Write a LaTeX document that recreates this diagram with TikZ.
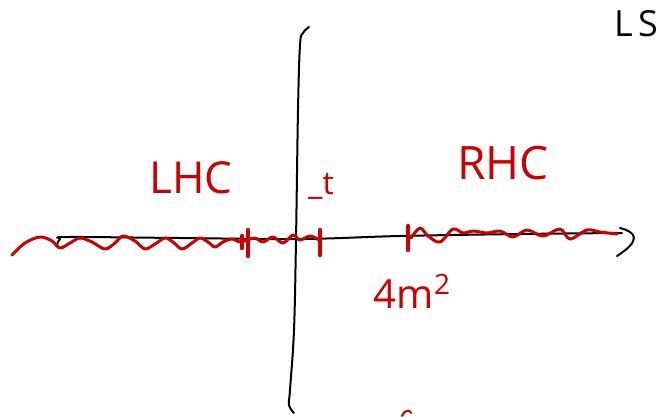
\documentclass[tikz,border=0pt]{standalone}
\usepackage{fontspec}
\setmainfont{Open Sans}
\usepackage{tikz}
\definecolor{inkred}{HTML}{CC0000}

\begin{document}
\begin{tikzpicture}[x=1pt, y=-1pt, line width=2pt, line cap=round, line join=round]
  \useasboundingbox (0,0) rectangle (662,416);
  % vertical axis
  \draw[black] plot[smooth, tension=0.6] coordinates {(309,27) (303,33) (300,45) (298,110) (296,240) (294,330) (290,390) (289,405) (294,413)};
  % horizontal axis with open arrow head
  \draw[black] plot[smooth, tension=0.6] coordinates {(57,245) (60,239) (68,237) (180,238) (300,239) (400,236) (520,234) (622,233)};
  \draw[black] (620,228) .. controls (636,232) and (642,240) .. (617,256);
  % wavy line left of the vertical axis
  \draw[inkred, line width=3pt] plot[smooth, tension=0.55] coordinates {(12,255) (25,243) (40,237) (52,241) (60,248) (70,243) (80,238) (92,242) (105,249) (115,243) (123,236) (135,241) (145,249) (155,244) (165,238) (173,242) (182,249) (192,243) (200,238) (208,242) (215,247) (223,242) (232,239) (240,242) (247,240) (255,238) (263,242) (273,237) (283,243) (293,235) (300,240) (310,236) (319,240)};
  % wavy line right of the vertical axis
  \draw[inkred, line width=3pt] plot[smooth, tension=0.55] coordinates {(411,238) (420,228) (428,236) (440,242) (453,229) (463,233) (473,231) (487,233) (500,231) (513,237) (527,230) (543,236) (560,229) (570,239) (587,230) (600,232) (617,234)};
  % ticks on the axis
  \foreach \x/\ya/\yb in {242/236/248, 248/230/256, 320/230/255, 408/226/250}{
    \draw[inkred, line width=4.5pt] (\x,\ya) -- (\x,\yb);
  }
  % labels
  \node[inkred, font=\fontsize{44}{44}\selectfont] (lhc) at (191,178) {LHC};
  \node[inkred, font=\fontsize{46}{46}\selectfont] (rhc) at (503,163) {RHC};
  \node[inkred, font=\fontsize{32}{32}\selectfont] (mint) at (321,186) {\_t};
  \node[inkred, font=\fontsize{40}{40}\selectfont] (thresh) at (412,291) {4m\raisebox{14pt}{\fontsize{28}{28}\selectfont 2}};
  \node[black, font=\fontsize{36}{36}\selectfont\addfontfeature{LetterSpace=15}] (ls) at (636,24) {LS};
  % stray mark at the bottom
  \draw[inkred] (402,416) .. controls (404,410) and (410,409) .. (411,413);
\end{tikzpicture}
\end{document}
